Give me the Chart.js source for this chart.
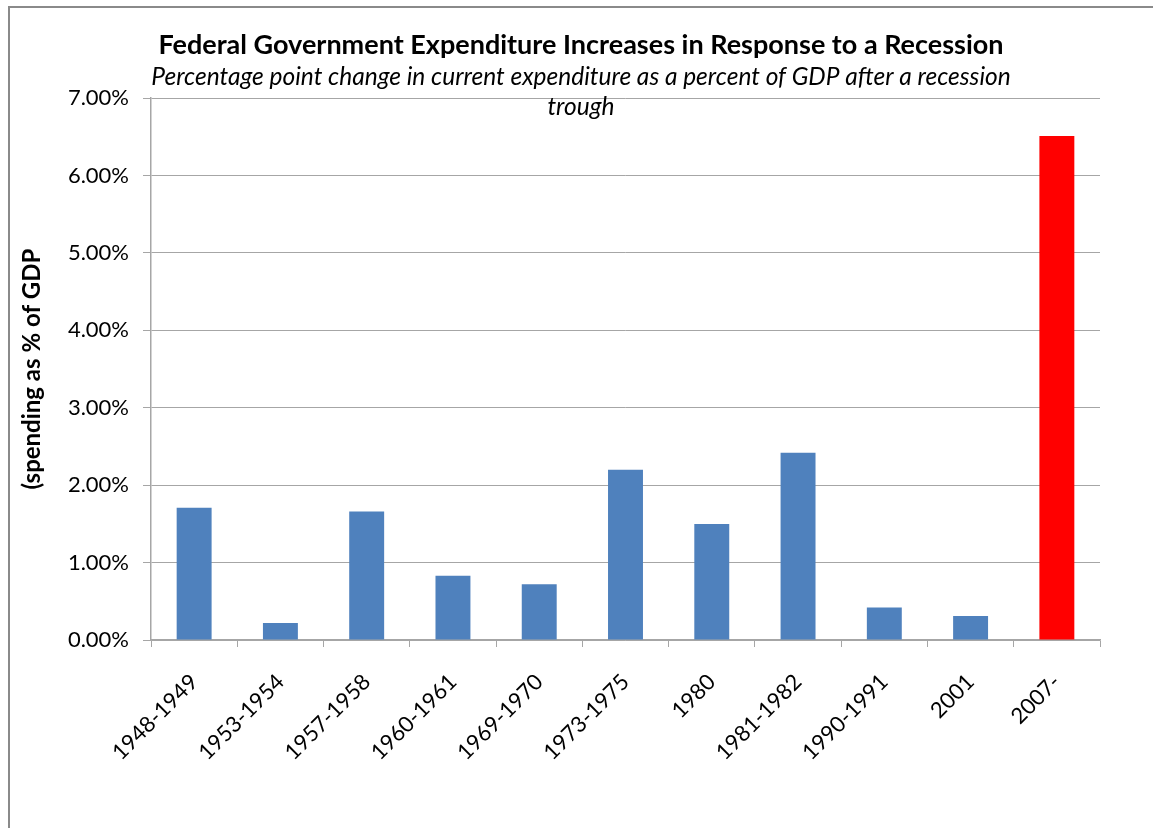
<!DOCTYPE html>
<html lang="en">
<head>
    <meta charset="UTF-8">
    <title>Federal Government Expenditure Increases in Response to a Recession</title>
    <script src="https://cdn.jsdelivr.net/npm/chart.js"></script>
    <style>
        html, body {
            margin: 0;
            padding: 0;
            background: white;
        }
        .frame {
            position: absolute;
            left: 8px;
            top: 6px;
            width: 1160px;
            height: 840px;
            border-left: 2px solid #8a8a8a;
            border-top: 2px solid #8a8a8a;
        }
        .chart-box {
            position: absolute;
            left: 0;
            top: 0;
            width: 1153px;
            height: 828px;
        }
    </style>
</head>
<body>
    <div class="frame"></div>
    <div class="chart-box">
        <canvas id="spendingChart"></canvas>
    </div>
    <script>
        // recession periods and change in spending (percentage points of GDP)
        const periods = ['1948-1949', '1953-1954', '1957-1958', '1960-1961', '1969-1970',
            '1973-1975', '1980', '1981-1982', '1990-1991', '2001', '2007-'];
        const changes = [1.71, 0.22, 1.66, 0.83, 0.72, 2.20, 1.50, 2.42, 0.42, 0.31, 6.51];
        const barColors = ['#4F81BD', '#4F81BD', '#4F81BD', '#4F81BD', '#4F81BD', '#4F81BD',
            '#4F81BD', '#4F81BD', '#4F81BD', '#4F81BD', '#FF0000'];
        const yTicks = [0, 1, 2, 3, 4, 5, 6, 7];

        const fontFamily = 'Lato, "Open Sans", sans-serif';

        // the heading in the original is centred a little to the right of the canvas middle
        const shiftTitles = {
            id: 'shiftTitles',
            afterLayout(chart) {
                chart.boxes.forEach(b => {
                    if (b.position === 'top') {
                        b.left += 27;
                        b.right += 27;
                    }
                });
            }
        };

        const ctx = document.getElementById('spendingChart').getContext('2d');
        new Chart(ctx, {
            type: 'bar',
            data: {
                labels: periods,
                datasets: [{
                    data: changes,
                    backgroundColor: barColors,
                    borderWidth: 0,
                    barPercentage: 0.405,
                    categoryPercentage: 1.0
                }]
            },
            plugins: [shiftTitles],
            options: {
                responsive: true,
                maintainAspectRatio: false,
                animation: false,
                layout: {
                    padding: { left: 8, right: 53, top: 0, bottom: 0 }
                },
                plugins: {
                    legend: { display: false },
                    tooltip: { enabled: false },
                    title: {
                        display: true,
                        text: 'Federal Government Expenditure Increases in Response to a Recession',
                        color: '#000',
                        font: { family: fontFamily, size: 27, weight: 'bold', lineHeight: 1.2 },
                        padding: { top: 29, bottom: 0 }
                    },
                    subtitle: {
                        display: true,
                        text: ['Percentage point change in current expenditure as a percent of GDP after a recession', 'trough'],
                        color: '#000',
                        font: { family: fontFamily, size: 24.5, style: 'italic', lineHeight: 1.22 },
                        padding: { top: 1, bottom: -24 }
                    }
                },
                scales: {
                    x: {
                        afterFit: function (scale) { scale.height = 188; },
                        grid: {
                            offset: true,
                            drawOnChartArea: false,
                            drawTicks: true,
                            tickLength: 7,
                            color: '#a6a6a6'
                        },
                        border: { color: '#a6a6a6', width: 1.5 },
                        ticks: {
                            color: '#000',
                            minRotation: 45,
                            maxRotation: 45,
                            autoSkip: false,
                            padding: 22,
                            font: { family: fontFamily, size: 22 }
                        }
                    },
                    y: {
                        min: 0,
                        max: 7,
                        afterFit: function (scale) { scale.width = 143; },
                        afterBuildTicks: function (scale) {
                            scale.ticks = yTicks.map(v => ({ value: v }));
                        },
                        grid: {
                            color: '#a6a6a6',
                            tickLength: 8,
                            lineWidth: 1
                        },
                        border: { color: '#a6a6a6', width: 1.5 },
                        ticks: {
                            color: '#000',
                            padding: 14,
                            font: { family: fontFamily, size: 22 },
                            callback: v => v.toFixed(2) + '%'
                        },
                        title: {
                            display: true,
                            text: '(spending as % of GDP',
                            color: '#000',
                            font: { family: fontFamily, size: 24, weight: 'bold' },
                            padding: { top: 10, bottom: 0 }
                        }
                    }
                }
            }
        });
    </script>
</body>
</html>
